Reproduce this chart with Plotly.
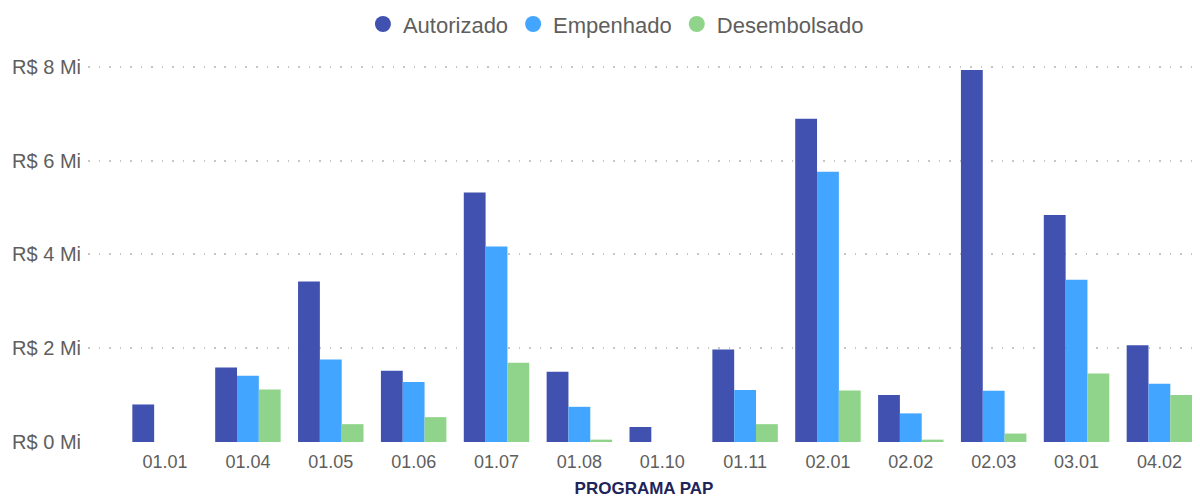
import plotly.graph_objects as go

categories = ["01.01", "01.04", "01.05", "01.06", "01.07", "01.08", "01.10",
              "01.11", "02.01", "02.02", "02.03", "03.01", "04.02"]
# values in R$ millions
autorizado = [0.80, 1.59, 3.42, 1.52, 5.32, 1.50, 0.32, 1.97, 6.89, 1.00, 7.93, 4.84, 2.06]
empenhado = [0.0, 1.41, 1.76, 1.28, 4.17, 0.75, 0.0, 1.11, 5.76, 0.61, 1.09, 3.46, 1.24]
desembolsado = [0.0, 1.12, 0.38, 0.53, 1.69, 0.05, 0.0, 0.38, 1.10, 0.05, 0.18, 1.46, 1.00]
y_ticks = [0, 2, 4, 6, 8]
y_tick_labels = ["R$ 0 Mi", "R$ 2 Mi", "R$ 4 Mi", "R$ 6 Mi", "R$ 8 Mi"]

series = [
    ("Autorizado", autorizado, "#4151B0"),
    ("Empenhado", empenhado, "#42A5FF"),
    ("Desembolsado", desembolsado, "#8FD48A"),
]

FONT = "Liberation Sans, Arial, sans-serif"

fig = go.Figure()
for name, vals, color in series:
    fig.add_trace(go.Bar(
        x=categories, y=vals, name=name, marker_color=color,
        marker_line_width=0, showlegend=False, legendgroup=name,
    ))
for name, vals, color in series:
    fig.add_trace(go.Scatter(
        x=[None], y=[None], mode="markers", name=name, legendgroup=name,
        marker=dict(symbol="circle", size=17, color=color),
    ))

fig.update_layout(
    width=1192, height=490,
    margin=dict(l=80, r=0, t=47, b=56, autoexpand=False),
    paper_bgcolor="white", plot_bgcolor="white",
    barmode="group", bargap=0.21, bargroupgap=0,
    font=dict(family=FONT, color="#605E5C", size=16),
    legend=dict(orientation="h", xref="container", yref="container",
                x=0.51, xanchor="center", y=0.967, yanchor="middle",
                font=dict(size=22, color="#605E5C"), itemwidth=30,
                traceorder="normal", tracegroupgap=0),
    xaxis=dict(
        type="category", range=[-0.93, 12.49], showgrid=False, zeroline=False,
        showline=False, ticks="", tickfont=dict(size=18, color="#605E5C"),
        ticklabelstandoff=7,
        title=dict(text="<b>PROGRAMA PAP</b>", font=dict(size=17, color="#1E2459"),
                   standoff=12),
    ),
    yaxis=dict(
        range=[0, 8.25], tickmode="array", tickvals=y_ticks, ticktext=y_tick_labels,
        showgrid=True, gridcolor="#C8C6C4", griddash="1.5px,9px", gridwidth=1.5,
        zeroline=False, showline=False, ticks="",
        tickfont=dict(size=20, color="#605E5C"), ticklabelstandoff=6,
    ),
)

fig.write_html("out.html")
